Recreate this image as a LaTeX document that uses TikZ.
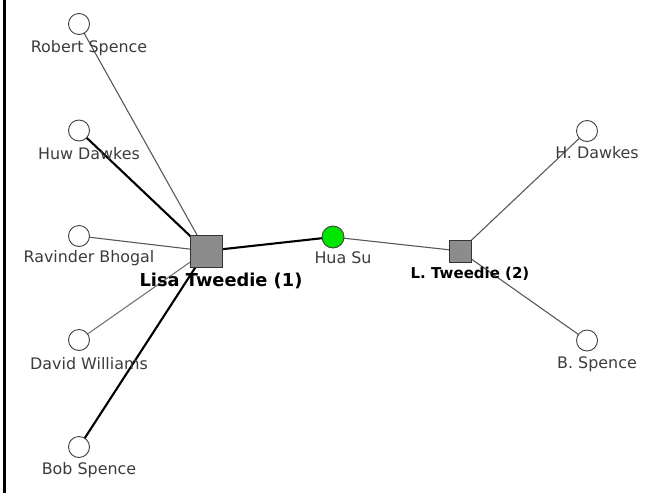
\documentclass[tikz,border=0pt]{standalone}
\usepackage{fontspec}
\setmainfont{DejaVu Sans}
\usetikzlibrary{backgrounds}
\definecolor{hubgray}{RGB}{140,140,140}
\definecolor{selfgreen}{RGB}{0,230,0}
\definecolor{labelgray}{RGB}{60,60,60}
\begin{document}
\begin{tikzpicture}[x=1pt,y=-1pt]

    \tikzset{
      person/.style={
        circle,
        draw=black!75,
        fill=white,
        line width=0.9pt,
        inner sep=0pt,
        minimum size=21pt,
      },
      self/.style={person, fill=selfgreen, minimum size=22pt},
      hub/.style={
        draw=black!80,
        fill=hubgray,
        line width=0.9pt,
        inner sep=0pt,
      },
      lbl/.style={anchor=base, inner sep=0pt, text=labelgray,
        font=\fontsize{15.9}{18}\selectfont},
      hublbl/.style={anchor=base, inner sep=0pt, text=black},
      weak/.style={draw=black!65, line width=1.1pt},
      strong/.style={draw=black, line width=2.1pt},
    }
    \useasboundingbox (0,0) rectangle (660,493);
	\draw[line width=2.5pt] (4.5,0) -- (4.5,493);
	% people
	\node[person] (rs) at (79,24) {};
	\node[person] (hd) at (79,130.5) {};
	\node[person] (rb) at (79,236) {};
	\node[person] (dw) at (79,340) {};
	\node[person] (bs) at (79,447) {};
	\node[self] (hs) at (333,237) {};
	\node[person] (hd2) at (587,131) {};
	\node[person] (bs2) at (587,340.5) {};
	\node[hub, minimum size=32pt] (lt) at (206,251) {};
	\node[hub, minimum size=22pt] (lt2) at (460,251) {};
	% labels
	\node[lbl] (rs-l) at ([shift={(10,28.5)}]rs) {Robert Spence};
	\node[lbl] (hd-l) at ([shift={(10,28.5)}]hd) {Huw Dawkes};
	\node[lbl] (rb-l) at ([shift={(10,26.5)}]rb) {Ravinder Bhogal};
	\node[lbl] (dw-l) at ([shift={(10,29)}]dw) {David Williams};
	\node[lbl] (bs-l) at ([shift={(10,27)}]bs) {Bob Spence};
	\node[lbl] (hs-l) at ([shift={(10,26.5)}]hs) {Hua Su};
	\node[lbl] (hd2-l) at ([shift={(10,27.5)}]hd2) {H. Dawkes};
	\node[lbl] (bs2-l) at ([shift={(10,27.8)}]bs2) {B. Spence};
	\node[hublbl, font=\bfseries\fontsize{17.8}{20}\selectfont] (lt-l) at ([shift={(15,35)}]lt) {Lisa Tweedie (1)};
	\node[hublbl, font=\bfseries\fontsize{15}{18}\selectfont] (lt2-l) at ([shift={(10,27)}]lt2) {L. Tweedie (2)};
	% links
	\begin{scope}[on background layer]
	\draw[weak] (lt.center) -- (rs.center);
	\draw[strong] (lt.center) -- (hd.center);
	\draw[weak] (lt.center) -- (rb.center);
	\draw[weak, draw=black!55] (lt.center) -- (dw.center);
	\draw[strong] (lt.center) -- (bs.center);
	\draw[strong] (lt.center) -- (hs.center);
	\draw[weak] (hs.center) -- (lt2.center);
	\draw[weak] (lt2.center) -- (hd2.center);
	\draw[weak] (lt2.center) -- (bs2.center);
	\end{scope}

\end{tikzpicture}
\end{document}
